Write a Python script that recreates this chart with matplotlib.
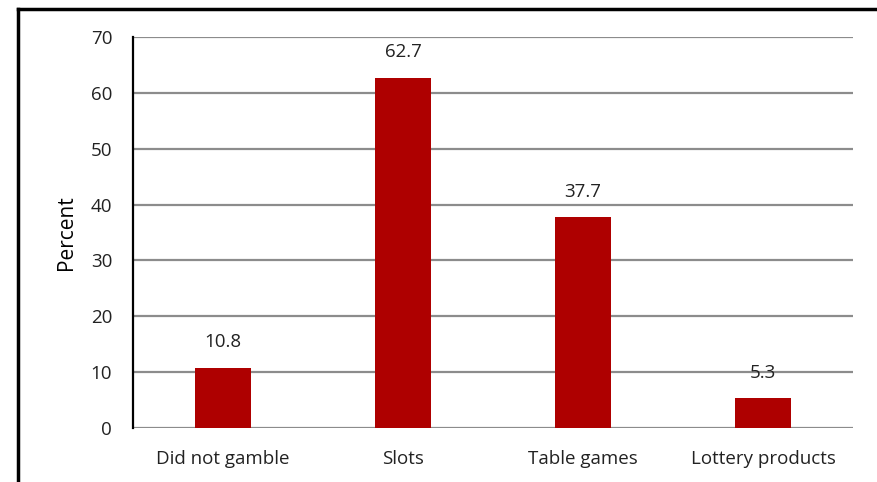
import matplotlib
matplotlib.use("Agg")
import matplotlib.pyplot as plt
from matplotlib.lines import Line2D

categories = ["Did not gamble", "Slots", "Table games", "Lottery products"]
values = [10.8, 62.7, 37.7, 5.3]
yticks = [0, 10, 20, 30, 40, 50, 60, 70]

plt.rcParams['font.family'] = ['Open Sans', 'DejaVu Sans']

fig = plt.figure(figsize=(8.77, 4.82), dpi=100)
ax = fig.add_axes([133/877, 1-428/482, (853-133)/877, (428-37)/482])

x = list(range(len(categories)))
ax.bar(x, values, width=0.31, color="#AE0000", zorder=3)
for xi, v in zip(x, values):
    ax.text(xi, v + 4.6, f"{v}", ha="center", va="center", fontsize=13.5, color="#222222", zorder=4)

ax.set_xlim(-0.5, len(categories) - 0.5)
ax.set_ylim(0, 70)
ax.set_yticks(yticks)
ax.set_xticks(x)
ax.set_xticklabels(categories)
ax.tick_params(axis='both', length=0, labelsize=13.5, colors="#222222")
ax.tick_params(axis='x', pad=16)
ax.tick_params(axis='y', pad=15)
ax.grid(axis='y', color="#8c8c8c", linewidth=1.6, zorder=0)
for s in ["top", "right", "bottom"]:
    ax.spines[s].set_visible(False)
ax.spines["left"].set_linewidth(1.6)
ax.spines["left"].set_color("black")
ax.set_ylabel("Percent", fontsize=15, color="black", labelpad=10)

fx = 18/877
fy = 1 - 9/482
fig.add_artist(Line2D([fx, 1], [fy, fy], transform=fig.transFigure, color="black", linewidth=2.5))
fig.add_artist(Line2D([fx, fx], [0, fy], transform=fig.transFigure, color="black", linewidth=2.5))

fig.savefig("out.png", dpi=100)
